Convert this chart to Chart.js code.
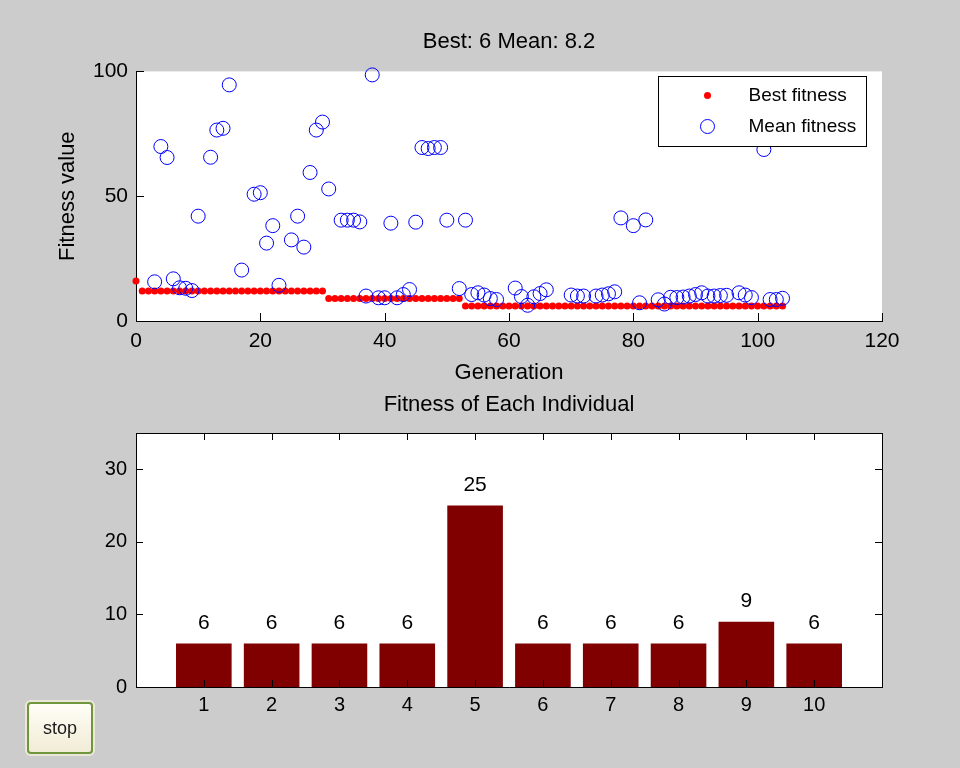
<!DOCTYPE html>
<html>
<head>
<meta charset="utf-8">
<title>GA fitness</title>
<script src="https://cdn.jsdelivr.net/npm/chart.js@4.4.1/dist/chart.umd.min.js"></script>
<style>
  body { margin: 0; background: #cccccc; width: 960px; height: 768px; overflow: hidden; position: relative; }
  #gaPlot { position: absolute; left: 0; top: 0; }
  #barPlot { position: absolute; left: 0; top: 390px; }
  #stop {
    position: absolute; left: 27px; top: 702px; width: 66px; height: 52px;
    box-sizing: border-box; border: 2px solid #6f963f; border-radius: 4px;
    background: linear-gradient(#fffef7, #f1ecd6);
    font: 18px "Liberation Sans", Arial, sans-serif; color: #1a1a1a; padding: 0;
    box-shadow: 0 0 0 2px #ece8d8;
  }
</style>
</head>
<body>
<canvas id="gaPlot" width="960" height="390"></canvas>
<canvas id="barPlot" width="960" height="378"></canvas>
<button id="stop">stop</button>

<script>
// generations 0..104
const generations = [0,1,2,3,4,5,6,7,8,9,10,11,12,13,14,15,16,17,18,19,20,21,22,23,24,25,26,27,28,29,30,
  31,32,33,34,35,36,37,38,39,40,41,42,43,44,45,46,47,48,49,50,51,52,53,54,55,56,57,58,59,60,
  61,62,63,64,65,66,67,68,69,70,71,72,73,74,75,76,77,78,79,80,81,82,83,84,85,86,87,88,89,90,
  91,92,93,94,95,96,97,98,99,100,101,102,103,104];

const bestFitness = [16,
  12,12,12,12,12,12,12,12,12,12,12,12,12,12,12,12,12,12,12,12,12,12,12,12,12,12,12,12,12,12,
  9,9,9,9,9,9,9,9,9,9,9,9,9,9,9,9,9,9,9,9,9,9,
  6,6,6,6,6,6,6,6,6,6,6,6,6,6,6,6,6,6,6,6,6,6,6,6,6,6,
  6,6,6,6,6,6,6,6,6,6,6,6,6,6,6,6,6,6,6,6,6,6,6,6,6,6];

// mean fitness (generations with mean > 100 are off the plot)
const meanGenerations = [3,4,5,6,7,8,9,10,12,13,14,15,17,19,20,21,22,23,25,26,27,28,29,30,31,
  33,34,35,36,37,38,39,40,41,42,43,44,45,46,47,48,49,50,52,53,54,55,56,57,58,
  61,62,63,64,65,66,70,71,72,74,75,76,77,78,80,81,82,84,85,86,87,88,89,90,91,92,93,94,95,
  97,98,99,101,102,103,104];
const meanFitness = [15.7,69.9,65.5,16.9,13.3,13.1,12.2,42,65.6,76.5,77.2,94.6,20.4,50.8,51.4,31.2,38.2,14.3,
  32.5,42,29.6,59.5,76.5,79.7,52.9,
  40.4,40.4,40.4,39.7,10,98.6,9.3,9.3,39.2,9.3,10.6,12.6,39.6,69.5,69.1,69.5,69.5,40.4,
  13,40.4,10.6,11.3,10.4,9,8.6,
  13.2,9.8,6.3,9.7,11,12.5,10.4,10,10,10,10.4,10.9,11.7,41.3,38.2,7.3,40.5,
  8.5,6.8,9.5,9.4,9.6,10,10.6,11.3,10,10,10.2,10.3,11.3,10.4,9.4,68.7,8.6,8.6,9.1];

const genTicks = [0, 120, 20];       // min, max, step
const fitTicks = [0, 100, 50];

// current population
const individuals = [1,2,3,4,5,6,7,8,9,10];
const individualFitness = [6,6,6,6,25,6,6,6,9,6];
const indTicks = [0, 11];
const barYTicks = [0, 35, 10];

const titleTop = 'Best: 6 Mean: 8.2';
const titleBottom = 'Fitness of Each Individual';

Chart.defaults.font.family = '"Liberation Sans", Arial, Helvetica, sans-serif';
Chart.defaults.color = '#000';

// white axes background + inward tick marks, like matlab
const matlabAxes = {
  id: 'matlabAxes',
  beforeDraw(chart) {
    const { ctx, chartArea: a } = chart;
    ctx.save();
    ctx.fillStyle = '#ffffff';
    ctx.fillRect(a.left, a.top, a.right - a.left, a.bottom - a.top);
    ctx.restore();
  },
  afterDraw(chart, args, opts) {
    const { ctx, chartArea: a, scales } = chart;
    const len = opts.tickLength || 7;
    ctx.save();
    ctx.strokeStyle = '#000';
    ctx.lineWidth = 1;
    ctx.beginPath();
    scales.x.ticks.forEach(t => {
      const px = Math.round(scales.x.getPixelForValue(t.value)) + 0.5;
      ctx.moveTo(px, a.bottom); ctx.lineTo(px, a.bottom - len);
      if (opts.box) { ctx.moveTo(px, a.top); ctx.lineTo(px, a.top + len); }
    });
    scales.y.ticks.forEach(t => {
      const py = Math.round(scales.y.getPixelForValue(t.value)) + 0.5;
      ctx.moveTo(a.left, py); ctx.lineTo(a.left + len, py);
      if (opts.box) { ctx.moveTo(a.right, py); ctx.lineTo(a.right - len, py); }
    });
    if (opts.box) {
      ctx.moveTo(a.left, Math.round(a.top) + 0.5); ctx.lineTo(a.right, Math.round(a.top) + 0.5);
      ctx.moveTo(Math.round(a.right) + 0.5, a.top); ctx.lineTo(Math.round(a.right) + 0.5, a.bottom);
    }
    ctx.stroke();
    ctx.restore();
  }
};

// boxed legend in the upper right corner
const boxLegend = {
  id: 'boxLegend',
  afterDraw(chart, args, opts) {
    if (!opts.show) return;
    const { ctx, chartArea: a } = chart;
    const w = 208, h = 70;
    const x0 = Math.round(a.right - 16 - w) + 0.5, y0 = Math.round(a.top + 5) + 0.5;
    ctx.save();
    ctx.fillStyle = '#fff';
    ctx.fillRect(x0, y0, w, h);
    ctx.strokeStyle = '#000';
    ctx.lineWidth = 1;
    ctx.strokeRect(x0, y0, w, h);
    ctx.font = '19px "Liberation Sans", Arial, sans-serif';
    ctx.textBaseline = 'middle';
    ctx.fillStyle = '#000';
    const rows = [chart.data.datasets[1], chart.data.datasets[0]];
    rows.forEach((ds, i) => {
      const y = y0 + 19 + i * 31;
      ctx.beginPath();
      ctx.arc(x0 + 49, y, ds.pointRadius, 0, Math.PI * 2);
      if (ds.backgroundColor !== 'transparent') {
        ctx.fillStyle = ds.backgroundColor; ctx.fill();
      } else {
        ctx.strokeStyle = ds.borderColor; ctx.lineWidth = ds.borderWidth; ctx.stroke();
      }
      ctx.fillStyle = '#000';
      ctx.fillText(ds.label, x0 + 90, y + 0.5);
    });
    ctx.restore();
  }
};

// numbers above the bars
const barValues = {
  id: 'barValues',
  afterDatasetsDraw(chart) {
    const { ctx } = chart;
    const meta = chart.getDatasetMeta(0);
    ctx.save();
    ctx.font = '21px "Liberation Sans", Arial, sans-serif';
    ctx.textAlign = 'center';
    ctx.textBaseline = 'middle';
    ctx.fillStyle = '#000';
    meta.data.forEach((bar, i) => {
      ctx.fillText(String(individualFitness[i]), bar.x, bar.y - 20);
    });
    ctx.restore();
  }
};

new Chart(document.getElementById('gaPlot'), {
  type: 'scatter',
  data: {
    datasets: [{
      label: 'Mean fitness',
      data: meanGenerations.map((g, i) => ({ x: g, y: meanFitness[i] })),
      pointRadius: 7,
      pointStyle: 'circle',
      backgroundColor: 'transparent',
      borderColor: '#0000ff',
      borderWidth: 1,
      clip: false,
      order: 0
    }, {
      label: 'Best fitness',
      data: generations.map((g, i) => ({ x: g, y: bestFitness[i] })),
      pointRadius: 3.5,
      pointStyle: 'circle',
      backgroundColor: '#ff0000',
      borderColor: '#ff0000',
      borderWidth: 0,
      clip: false,
      order: 1
    }]
  },
  options: {
    responsive: false,
    animation: false,
    events: [],
    layout: { padding: { left: 0, right: 78, top: 0, bottom: 0 } },
    plugins: {
      legend: { display: false },
      tooltip: { enabled: false },
      title: {
        display: true, text: titleTop, color: '#000', fullSize: false,
        font: { size: 22, weight: 'normal' },
        padding: { top: 29, bottom: 16 }
      },
      matlabAxes: { tickLength: 8, box: false },
      boxLegend: { show: true }
    },
    scales: {
      x: {
        type: 'linear', min: genTicks[0], max: genTicks[1],
        ticks: { stepSize: genTicks[2], font: { size: 21 }, padding: 8, maxRotation: 0, color: '#000' },
        grid: { display: false, drawTicks: false },
        border: { display: true, color: '#000', width: 1 },
        title: { display: true, text: 'Generation', font: { size: 22 }, padding: { top: 0, bottom: 4 }, color: '#000' },
        afterFit(scale) { scale.height = 69; }
      },
      y: {
        type: 'linear', min: fitTicks[0], max: fitTicks[1],
        ticks: { stepSize: fitTicks[2], font: { size: 21 }, padding: 8, color: '#000' },
        grid: { display: false, drawTicks: false },
        border: { display: true, color: '#000', width: 1 },
        title: { display: true, text: 'Fitness value', font: { size: 22 }, padding: { top: 55, bottom: 0 }, color: '#000' },
        afterFit(scale) { scale.width = 136; }
      }
    }
  },
  plugins: [matlabAxes, boxLegend]
});

new Chart(document.getElementById('barPlot'), {
  type: 'bar',
  data: {
    datasets: [{
      label: 'Fitness',
      data: individuals.map((n, i) => ({ x: n, y: individualFitness[i] })),
      backgroundColor: '#800000',
      borderWidth: 0,
      barPercentage: 0.82,
      categoryPercentage: 1
    }]
  },
  options: {
    responsive: false,
    animation: false,
    events: [],
    layout: { padding: { left: 0, right: 78, top: 0, bottom: 0 } },
    plugins: {
      legend: { display: false },
      tooltip: { enabled: false },
      title: {
        display: true, text: titleBottom, color: '#000', fullSize: false,
        font: { size: 22, weight: 'normal' },
        padding: { top: 2, bottom: 14.6 }
      },
      matlabAxes: { tickLength: 7, box: true }
    },
    scales: {
      x: {
        type: 'linear', min: indTicks[0], max: indTicks[1], offset: false,
        afterBuildTicks(scale) { scale.ticks = individuals.map(v => ({ value: v })); },
        ticks: { font: { size: 20 }, padding: 6.5, maxRotation: 0, autoSkip: false, color: '#000' },
        grid: { display: false, drawTicks: false, offset: false },
        border: { display: true, color: '#000', width: 1 },
        afterFit(scale) { scale.height = 81; }
      },
      y: {
        type: 'linear', min: barYTicks[0], max: barYTicks[1],
        ticks: { stepSize: barYTicks[2], includeBounds: false, font: { size: 20 }, padding: 9, color: '#000' },
        grid: { display: false, drawTicks: false },
        border: { display: true, color: '#000', width: 1 },
        afterFit(scale) { scale.width = 136; }
      }
    }
  },
  plugins: [matlabAxes, barValues]
});
</script>
</body>
</html>
